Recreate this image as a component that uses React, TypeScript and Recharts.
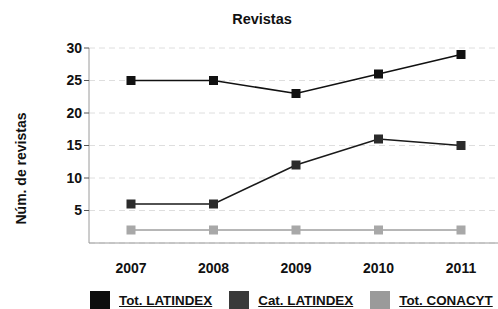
import { CartesianGrid, Legend, Line, LineChart, XAxis, YAxis } from "recharts";

const years = ["2007", "2008", "2009", "2010", "2011"];
const totLatindex = [25, 25, 23, 26, 29];
const catLatindex = [6, 6, 12, 16, 15];
const totConacyt = [2, 2, 2, 2, 2];
const yTicks = [5, 10, 15, 20, 25, 30];

const FONT = '"Liberation Sans", Arial, sans-serif';

const series = [
  { key: "tot", label: "Tot. LATINDEX", line: "#111111", marker: "#111111", swatch: "#0d0d0d", width: 1.6 },
  { key: "cat", label: "Cat. LATINDEX", line: "#1a1a1a", marker: "#2b2b2b", swatch: "#3a3a3a", width: 1.6 },
  { key: "conacyt", label: "Tot. CONACYT", line: "#6f6f6f", marker: "#a8a8a8", swatch: "#9a9a9a", width: 1 },
];

const data = years.map((year, i) => ({
  year,
  tot: totLatindex[i],
  cat: catLatindex[i],
  conacyt: totConacyt[i],
}));

function squareDot(color: string) {
  return (props: any) => {
    const { cx, cy, index } = props;
    if (cx == null || cy == null) return <g key={index} />;
    return <rect key={index} x={cx - 4.5} y={cy - 4.5} width={9} height={9} fill={color} />;
  };
}

function LegendBox() {
  return (
    <div
      style={{
        display: "flex",
        alignItems: "center",
        height: 18,
        width: 498,
        paddingLeft: 90,
        boxSizing: "border-box",
        fontFamily: FONT,
        fontSize: 13.4,
        fontWeight: "bold",
        color: "#111",
        whiteSpace: "nowrap",
      }}
    >
      {series.map((s) => (
        <div key={s.key} style={{ display: "flex", alignItems: "center", marginRight: 17, flexShrink: 0 }}>
          <span style={{ width: 20, height: 18, background: s.swatch, display: "inline-block", marginRight: 9, flexShrink: 0 }} />
          <span style={{ textDecoration: "underline" }}>{s.label}</span>
        </div>
      ))}
    </div>
  );
}

export default function App() {
  return (
    <div style={{ position: "absolute", left: 0, top: 0, width: 498, height: 309, background: "#fff" }}>
      <div
        style={{
          position: "absolute",
          left: 0,
          top: 11,
          width: 524,
          textAlign: "center",
          fontFamily: FONT,
          fontSize: 14.5,
          fontWeight: "bold",
          color: "#111",
        }}
      >
        Revistas
      </div>
      <LineChart width={498} height={309} data={data} margin={{ top: 48, right: 0, bottom: 18, left: 0 }}>
        <CartesianGrid vertical={false} stroke="#dedede" strokeDasharray="6 4" />
        <XAxis
          dataKey="year"
          axisLine={{ stroke: "#9a9a9a" }}
          tickLine={false}
          padding={{ left: 42, right: 37 }}
          tick={{ fill: "#111", fontSize: 14, fontFamily: FONT, fontWeight: "bold" }}
          tickMargin={14}
          height={30}
        />
        <YAxis
          domain={[0, 30]}
          ticks={yTicks}
          width={89}
          axisLine={{ stroke: "#9a9a9a" }}
          tickLine={{ stroke: "#555" }}
          tickSize={5}
          tick={{ fill: "#111", fontSize: 14, fontFamily: FONT, fontWeight: "bold" }}
          label={{
            value: "Núm. de revistas",
            angle: -90,
            position: "center",
            dx: -23,
            dy: 23,
            style: { fill: "#111", fontSize: 14, fontFamily: FONT, fontWeight: "bold" },
          }}
        />
        <Legend content={() => <LegendBox />} wrapperStyle={{ bottom: 0, left: 0, width: 498 }} height={18} />
        {series.map((s) => (
          <Line
            key={s.key}
            dataKey={s.key}
            name={s.label}
            type="linear"
            stroke={s.line}
            strokeWidth={s.width}
            dot={squareDot(s.marker)}
            activeDot={false}
            isAnimationActive={false}
          />
        ))}
      </LineChart>
    </div>
  );
}
